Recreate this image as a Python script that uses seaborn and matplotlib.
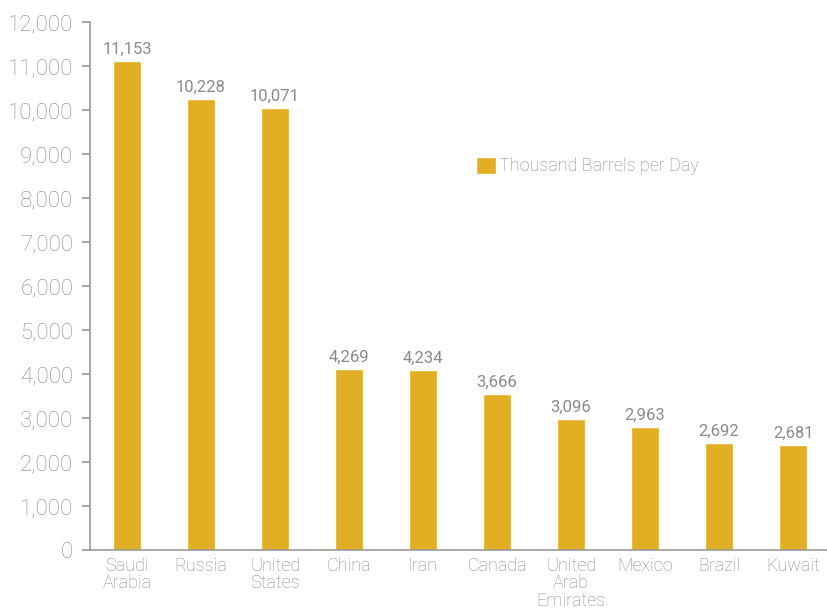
import matplotlib
matplotlib.use("Agg")
import matplotlib.pyplot as plt
import seaborn as sns
import pandas as pd

# data
countries = ["Saudi\nArabia", "Russia", "United\nStates", "China", "Iran", "Canada",
             "United\nArab\nEmirates", "Mexico", "Brazil", "Kuwait"]
bar_heights = [11110, 10250, 10050, 4110, 4090, 3545, 2980, 2800, 2430, 2390]
bar_labels = [11153, 10228, 10071, 4269, 4234, 3666, 3096, 2963, 2692, 2681]
series_name = "Thousand Barrels per Day"

df = pd.DataFrame({"country": countries, "value": bar_heights})

sns.set_style("white")
plt.rcParams["font.family"] = ["Roboto", "DejaVu Sans"]

gold = "#E2AE24"
grey = "#8a8a8a"

fig = plt.figure(figsize=(8.27, 6.08), dpi=100)
ax = fig.add_axes([90/827, 58/608, 740/827, 528/608])

sns.barplot(data=df, x="country", y="value", color=gold, width=0.39,
            saturation=1, ax=ax, label=series_name)

# value labels above bars
for i, (h, lab) in enumerate(zip(bar_heights, bar_labels)):
    ax.annotate(f"{lab:,}", (i, h), xytext=(0, 3), textcoords="offset points",
                ha="center", va="bottom", fontsize=12, color=grey)

ax.set_ylim(0, 12000)
ax.set_xlim(-0.5, len(countries) - 0.5)
ax.set_yticks(range(0, 12001, 1000))
ax.set_yticklabels([f"{v:,}" for v in range(0, 12001, 1000)],
                   fontsize=16, color=grey, fontweight="light")
ax.set_xlabel("")
ax.set_ylabel("")

ax.set_xticks(range(len(countries)))
ax.set_xticklabels(countries, fontsize=13, color=grey, linespacing=0.95,
                   fontweight="light")
ax.tick_params(axis="x", which="major", length=0, pad=5)
ax.set_xticks([i - 0.5 for i in range(len(countries) + 1)], minor=True)
ax.tick_params(axis="x", which="minor", length=6, color="#999999", width=1.2)
ax.tick_params(axis="y", length=6, color="#999999", width=1.2, pad=6, left=True)

sns.despine(ax=ax)
for s in ["left", "bottom"]:
    ax.spines[s].set_color("#999999")
    ax.spines[s].set_linewidth(1.2)

leg = fig.legend(loc="center left", bbox_to_anchor=(467/827, 1 - 166/608),
                 frameon=False, handlelength=1.1, handleheight=1.1,
                 handletextpad=0.15, borderpad=0,
                 prop={"weight": "light", "size": 13})
for t in leg.get_texts():
    t.set_color(grey)
if ax.get_legend():
    ax.get_legend().remove()

fig.savefig("out.png", dpi=100)
